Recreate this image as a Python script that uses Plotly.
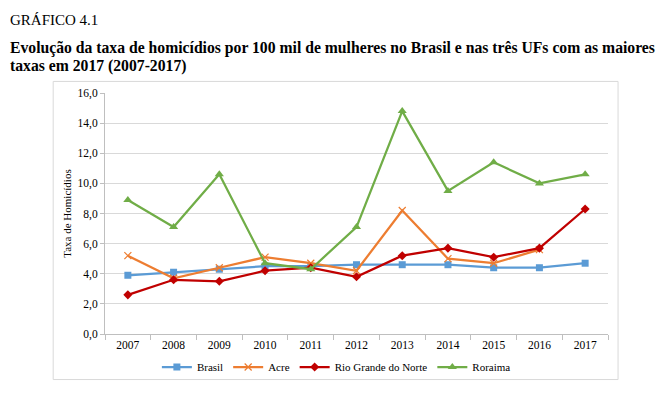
import plotly.graph_objects as go

years = ["2007", "2008", "2009", "2010", "2011", "2012", "2013", "2014", "2015", "2016", "2017"]
brasil = [3.9, 4.1, 4.3, 4.5, 4.5, 4.6, 4.6, 4.6, 4.4, 4.4, 4.7]
acre = [5.2, 3.7, 4.4, 5.1, 4.7, 4.2, 8.2, 5.0, 4.7, 5.6, None]
rn = [2.6, 3.6, 3.5, 4.2, 4.4, 3.8, 5.2, 5.7, 5.1, 5.7, 8.3]
roraima = [8.9, 7.1, 10.6, 4.7, 4.3, 7.1, 14.8, 9.5, 11.4, 10.0, 10.6]
y_ticks = [0, 2, 4, 6, 8, 10, 12, 14, 16]
y_tick_labels = ["0,0", "2,0", "4,0", "6,0", "8,0", "10,0", "12,0", "14,0", "16,0"]

serif = "Liberation Serif"

series = [
    ("Brasil", brasil, "#5B9BD5", "square", 7, 0),
    ("Acre", acre, "#ED7D31", "x-thin-open", 7, 1.2),
    ("Rio Grande do Norte", rn, "#C00000", "diamond", 7, 0),
    ("Roraima", roraima, "#70AD47", "triangle-up", 8, 0),
]

fig = go.Figure()
for name, vals, color, sym, size, lw in series:
    fig.add_trace(go.Scatter(
        x=years, y=vals, name=name, mode="lines+markers",
        line=dict(color=color, width=2.25),
        marker=dict(symbol=sym, size=size, color=color, line=dict(color=color, width=lw)),
        connectgaps=False,
    ))

fig.update_layout(
    width=668, height=393,
    margin=dict(l=105, r=60, t=93, b=51),
    paper_bgcolor="white", plot_bgcolor="white",
    font=dict(family=serif, size=11, color="black"),
    showlegend=True,
    legend=dict(orientation="h", x=0.46, y=-0.137, xanchor="center", yanchor="middle",
                font=dict(family=serif, size=11), tracegroupgap=0, itemwidth=30,
                bgcolor="rgba(0,0,0,0)"),
    xaxis=dict(type="category", showgrid=False, showline=True, linecolor="#BFBFBF", linewidth=1,
               ticks="outside", tickson="boundaries", ticklen=5, tickcolor="#BFBFBF",
               tickfont=dict(family=serif, size=11.5), range=[-0.5, 10.5], automargin=False),
    yaxis=dict(range=[0, 16], tickvals=y_ticks, ticktext=y_tick_labels, showgrid=True,
               gridcolor="#D9D9D9", gridwidth=1, showline=True, linecolor="#BFBFBF", linewidth=1,
               ticks="outside", ticklen=4, tickcolor="#BFBFBF", zeroline=False,
               tickfont=dict(family=serif, size=11.5), automargin=False,
               title=dict(text="Taxa de Homicídios", font=dict(family=serif, size=11), standoff=3)),
    shapes=[dict(type="rect", xref="paper", yref="paper", x0=-0.103, x1=1.02, y0=-0.189, y1=1.048,
                 line=dict(color="#D9D9D9", width=1), fillcolor="rgba(0,0,0,0)", layer="below")],
    annotations=[
        dict(text="GRÁFICO 4.1", xref="paper", yref="paper", x=-0.193, y=1.301,
             xanchor="left", yanchor="middle", showarrow=False,
             font=dict(family=serif, size=15, color="black")),
        dict(text="<b>Evolução da taxa de homicídios por 100 mil de mulheres no Brasil e nas três UFs com as maiores</b>",
             xref="paper", yref="paper", x=-0.193, y=1.185,
             xanchor="left", yanchor="middle", align="left", showarrow=False,
             font=dict(family=serif, size=15.7, color="black")),
        dict(text="<b>taxas em 2017 (2007-2017)</b>",
             xref="paper", yref="paper", x=-0.193, y=1.112,
             xanchor="left", yanchor="middle", align="left", showarrow=False,
             font=dict(family=serif, size=15.7, color="black")),
    ],
)

fig.write_html("out.html", config={"displayModeBar": False},
               post_script="document.body.style.margin='0px';")
